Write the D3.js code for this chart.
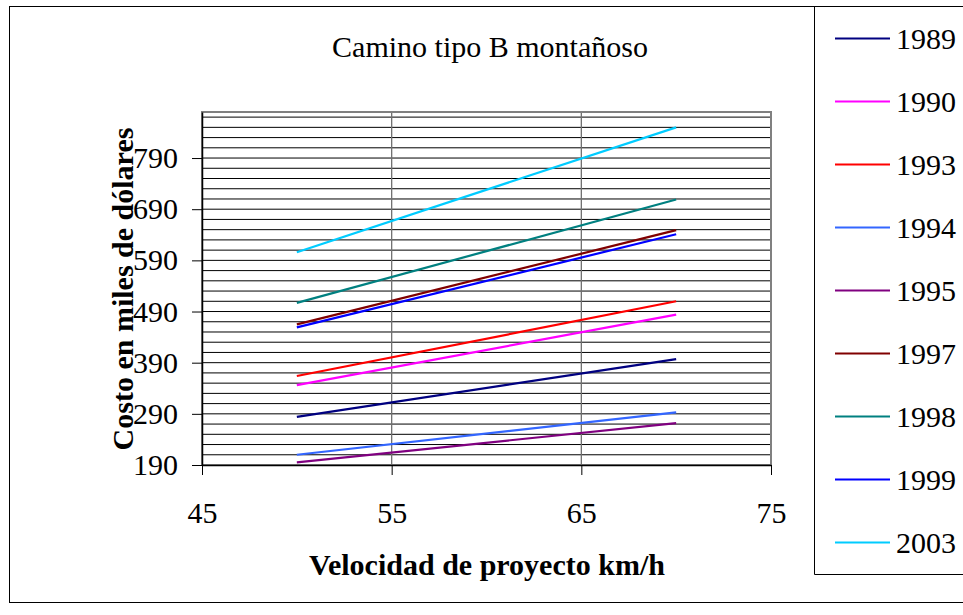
<!DOCTYPE html>
<html>
<head>
<meta charset="utf-8">
<script src="https://cdn.jsdelivr.net/npm/d3@7"></script>
<style>
  html, body { margin: 0; padding: 0; background: #fff; }
  svg { display: block; }
  svg text { font-family: "Times New Roman", "Liberation Serif", Times, "DejaVu Serif", serif; }
</style>
</head>
<body>
<svg id="chart" width="963" height="615"></svg>
<script>
// Costo de construcción, camino tipo B montañoso (miles de dólares)
const speeds = [50, 70];
const years = ["1989", "1990", "1993", "1994", "1995", "1997", "1998", "1999", "2003"];
const cost1989 = [284, 397];
const cost1990 = [346, 484];
const cost1993 = [364, 510];
const cost1994 = [210, 293];
const cost1995 = [195, 272];
const cost1997 = [465, 649];
const cost1998 = [507, 709];
const cost1999 = [459, 641];
const cost2003 = [606, 850];
const colors = ["#000080", "#FF00FF", "#FF0000", "#3366FF", "#800080", "#800000", "#008080", "#0000FF", "#00CCFF"];
const xTicks = [45, 55, 65, 75];
const yTicks = [190, 290, 390, 490, 590, 690, 790];

const seriesValues = [cost1989, cost1990, cost1993, cost1994, cost1995, cost1997, cost1998, cost1999, cost2003];
const series = years.map((y, i) => ({
  name: y,
  color: colors[i],
  points: speeds.map((s, j) => ({ x: s, y: seriesValues[i][j] }))
}));

const svg = d3.select("#chart");
const plot = { left: 202, right: 771, top: 112, bottom: 465 };

const x = d3.scaleLinear().domain([45, 75]).range([plot.left, plot.right]);
const y = d3.scaleLinear().domain([190, 880]).range([plot.bottom, plot.top]);

// outer chart frame
svg.append("rect")
  .attr("x", 9.5).attr("y", 6.5)
  .attr("width", 970).attr("height", 596)
  .attr("fill", "#fff").attr("stroke", "#000").attr("stroke-width", 1);

// horizontal gridlines every 20
const gridVals = d3.range(210, 880, 20);
svg.append("g")
  .selectAll("line").data(gridVals).join("line")
  .attr("x1", plot.left).attr("x2", plot.right)
  .attr("y1", d => y(d)).attr("y2", d => y(d))
  .attr("stroke", "#000").attr("stroke-width", 1);

// vertical gridlines
svg.append("g")
  .selectAll("line").data([55, 65]).join("line")
  .attr("x1", d => x(d)).attr("x2", d => x(d))
  .attr("y1", plot.top).attr("y2", plot.bottom)
  .attr("stroke", "#707070").attr("stroke-width", 1.3);

// plot area border
svg.append("rect")
  .attr("x", plot.left).attr("y", plot.top)
  .attr("width", plot.right - plot.left).attr("height", plot.bottom - plot.top)
  .attr("fill", "none").attr("stroke", "#808080").attr("stroke-width", 2);

// series lines
const line = d3.line().x(d => x(d.x)).y(d => y(d.y));
svg.append("g")
  .selectAll("path").data(series).join("path")
  .attr("d", d => line(d.points))
  .attr("fill", "none")
  .attr("stroke", d => d.color)
  .attr("stroke-width", 2.2);

// axes
const xAxis = d3.axisBottom(x).tickValues(xTicks).tickSize(10).tickSizeOuter(0).tickFormat(d3.format("d"));
const gx = svg.append("g").attr("transform", `translate(0,${plot.bottom})`).call(xAxis)
  .attr("font-family", null).attr("font-size", null);
gx.select(".domain").attr("stroke", "#000").attr("stroke-width", 1.5);
gx.selectAll(".tick line").attr("stroke", "#000");
gx.selectAll(".tick text")
  .attr("y", 0).attr("dy", 0)
  .attr("transform", "translate(0,58)")
  .attr("font-size", 30).attr("fill", "#000");

const yAxis = d3.axisLeft(y).tickValues(yTicks).tickSize(10).tickSizeOuter(0).tickFormat(d3.format("d"));
const gy = svg.append("g").attr("transform", `translate(${plot.left},0)`).call(yAxis)
  .attr("font-family", null).attr("font-size", null);
gy.select(".domain").attr("stroke", "#000").attr("stroke-width", 1.5);
gy.selectAll(".tick line").attr("stroke", "#000");
gy.selectAll(".tick text")
  .attr("x", -24)
  .attr("font-size", 30).attr("fill", "#000");

// title
svg.append("text")
  .attr("x", 490).attr("y", 57)
  .attr("text-anchor", "middle")
  .attr("font-size", 30)
  .text("Camino tipo B montañoso");

// axis titles
svg.append("text")
  .attr("x", 487).attr("y", 575)
  .attr("text-anchor", "middle")
  .attr("font-size", 30).attr("font-weight", "bold")
  .text("Velocidad de proyecto km/h");

svg.append("text")
  .attr("transform", "translate(133,289) rotate(-90)")
  .attr("text-anchor", "middle")
  .attr("font-size", 30).attr("font-weight", "bold")
  .text("Costo en miles de dólares");

// legend
const legend = svg.append("g");
legend.append("path")
  .attr("d", "M814.5,6.5 V574.5 H970")
  .attr("fill", "none").attr("stroke", "#000").attr("stroke-width", 1);
const legendY = d3.scalePoint().domain(years).range([38.5, 542.5]);
const items = legend.selectAll("g.item").data(series).join("g")
  .attr("class", "item")
  .attr("transform", d => `translate(0,${legendY(d.name)})`);
items.append("line")
  .attr("x1", 835).attr("x2", 890)
  .attr("stroke", d => d.color).attr("stroke-width", 2.2);
items.append("text")
  .attr("x", 896).attr("y", 0).attr("dy", "0.35em")
  .attr("font-size", 30)
  .text(d => d.name);
</script>
</body>
</html>
